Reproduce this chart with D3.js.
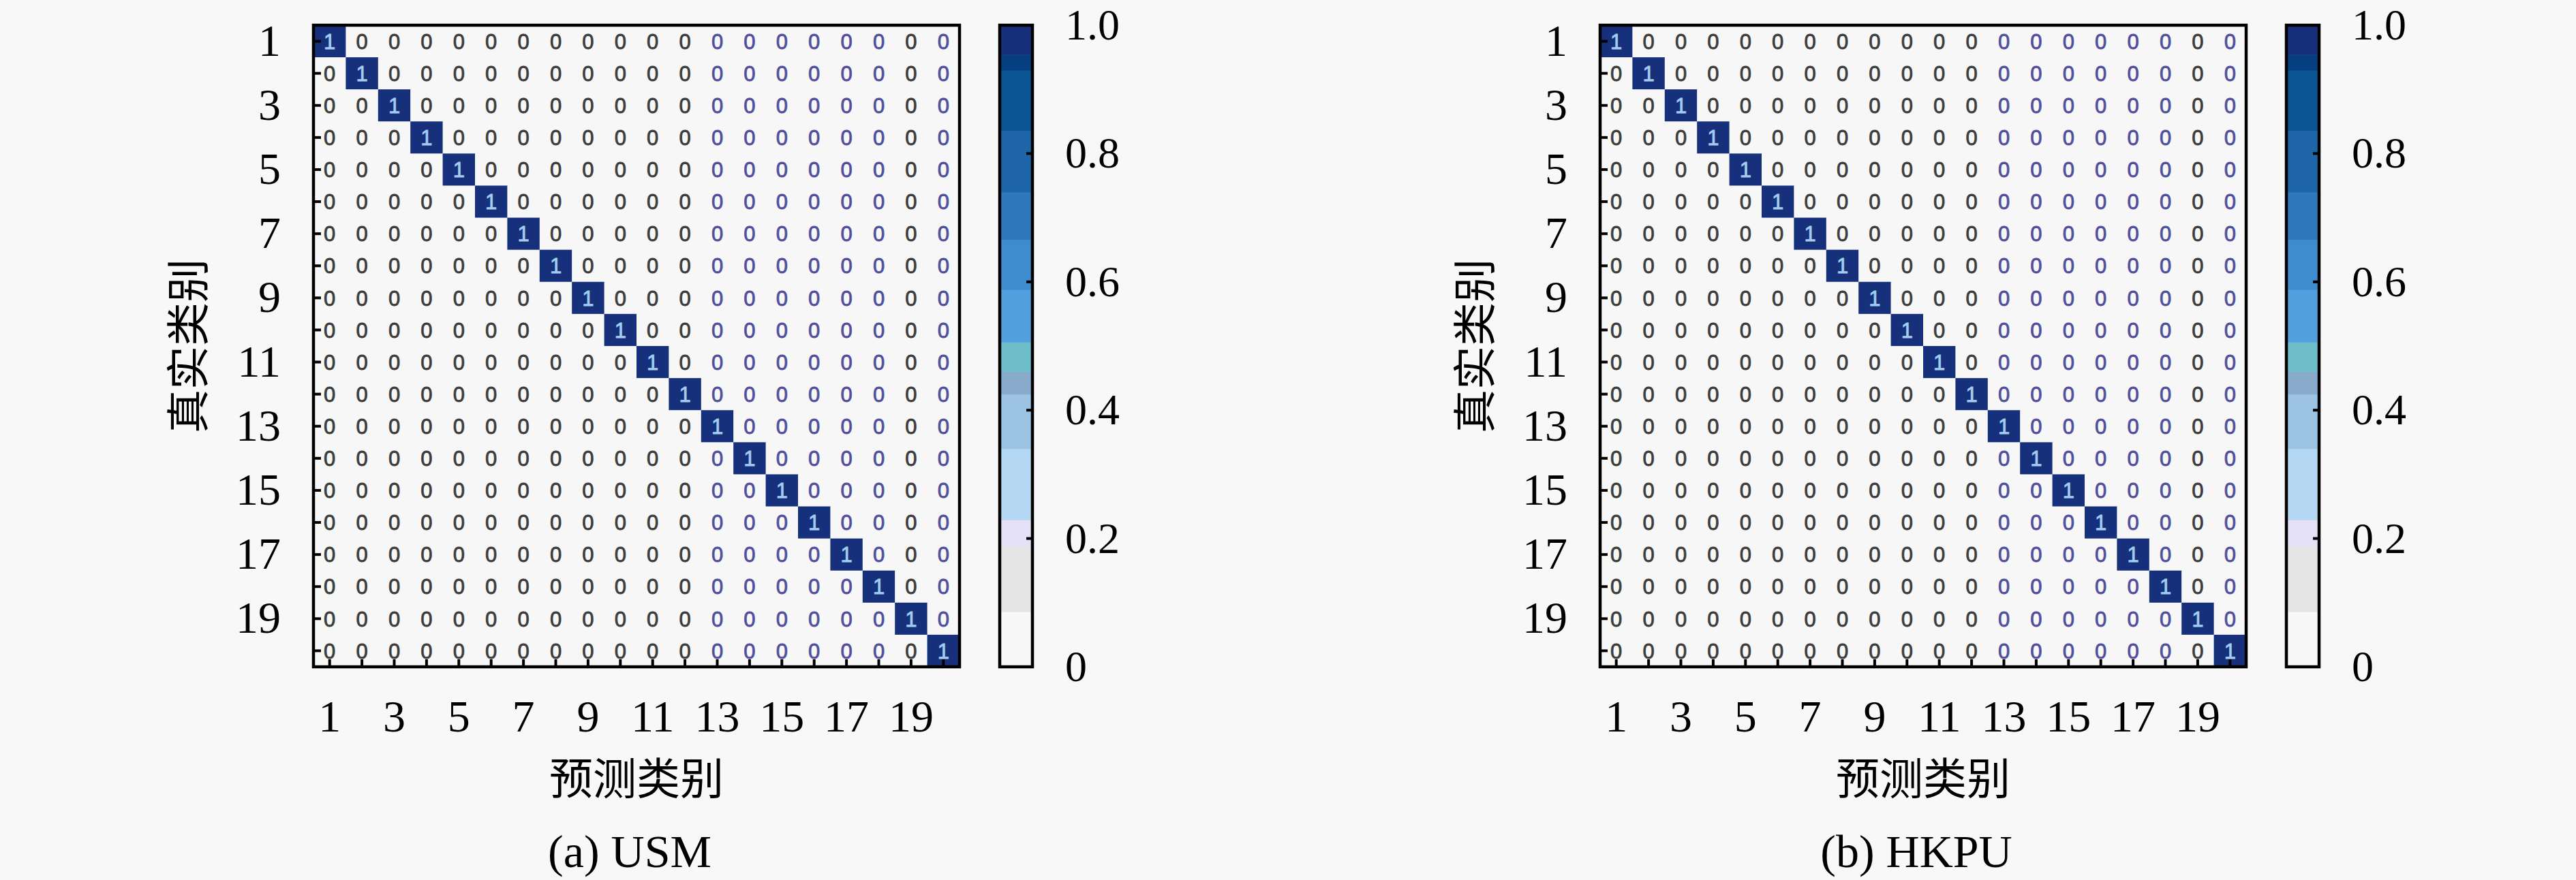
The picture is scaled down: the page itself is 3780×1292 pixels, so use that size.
<!DOCTYPE html>
<html>
<head>
<meta charset="utf-8">
<script src="https://cdn.jsdelivr.net/npm/d3@7"></script>
<style>
  body { margin: 0; background: #f8f8f8; }
  svg { display: block; }
</style>
</head>
<body>
<svg id="chart" width="3780" height="1292"></svg>
<script>
// categories (1..20) and the odd ones that get labels
const classes = [1,2,3,4,5,6,7,8,9,10,11,12,13,14,15,16,17,18,19,20];
const tickLabels = [1,3,5,7,9,11,13,15,17,19];
const cbTicks = [0, 0.2, 0.4, 0.6, 0.8, 1.0];
const titles = ["(a) USM", "(b) HKPU"];

// confusion matrices, rows = true class, cols = predicted class
const usm = [
  [1,0,0,0,0,0,0,0,0,0,0,0,0,0,0,0,0,0,0,0],
  [0,1,0,0,0,0,0,0,0,0,0,0,0,0,0,0,0,0,0,0],
  [0,0,1,0,0,0,0,0,0,0,0,0,0,0,0,0,0,0,0,0],
  [0,0,0,1,0,0,0,0,0,0,0,0,0,0,0,0,0,0,0,0],
  [0,0,0,0,1,0,0,0,0,0,0,0,0,0,0,0,0,0,0,0],
  [0,0,0,0,0,1,0,0,0,0,0,0,0,0,0,0,0,0,0,0],
  [0,0,0,0,0,0,1,0,0,0,0,0,0,0,0,0,0,0,0,0],
  [0,0,0,0,0,0,0,1,0,0,0,0,0,0,0,0,0,0,0,0],
  [0,0,0,0,0,0,0,0,1,0,0,0,0,0,0,0,0,0,0,0],
  [0,0,0,0,0,0,0,0,0,1,0,0,0,0,0,0,0,0,0,0],
  [0,0,0,0,0,0,0,0,0,0,1,0,0,0,0,0,0,0,0,0],
  [0,0,0,0,0,0,0,0,0,0,0,1,0,0,0,0,0,0,0,0],
  [0,0,0,0,0,0,0,0,0,0,0,0,1,0,0,0,0,0,0,0],
  [0,0,0,0,0,0,0,0,0,0,0,0,0,1,0,0,0,0,0,0],
  [0,0,0,0,0,0,0,0,0,0,0,0,0,0,1,0,0,0,0,0],
  [0,0,0,0,0,0,0,0,0,0,0,0,0,0,0,1,0,0,0,0],
  [0,0,0,0,0,0,0,0,0,0,0,0,0,0,0,0,1,0,0,0],
  [0,0,0,0,0,0,0,0,0,0,0,0,0,0,0,0,0,1,0,0],
  [0,0,0,0,0,0,0,0,0,0,0,0,0,0,0,0,0,0,1,0],
  [0,0,0,0,0,0,0,0,0,0,0,0,0,0,0,0,0,0,0,1]
];
const hkpu = [
  [1,0,0,0,0,0,0,0,0,0,0,0,0,0,0,0,0,0,0,0],
  [0,1,0,0,0,0,0,0,0,0,0,0,0,0,0,0,0,0,0,0],
  [0,0,1,0,0,0,0,0,0,0,0,0,0,0,0,0,0,0,0,0],
  [0,0,0,1,0,0,0,0,0,0,0,0,0,0,0,0,0,0,0,0],
  [0,0,0,0,1,0,0,0,0,0,0,0,0,0,0,0,0,0,0,0],
  [0,0,0,0,0,1,0,0,0,0,0,0,0,0,0,0,0,0,0,0],
  [0,0,0,0,0,0,1,0,0,0,0,0,0,0,0,0,0,0,0,0],
  [0,0,0,0,0,0,0,1,0,0,0,0,0,0,0,0,0,0,0,0],
  [0,0,0,0,0,0,0,0,1,0,0,0,0,0,0,0,0,0,0,0],
  [0,0,0,0,0,0,0,0,0,1,0,0,0,0,0,0,0,0,0,0],
  [0,0,0,0,0,0,0,0,0,0,1,0,0,0,0,0,0,0,0,0],
  [0,0,0,0,0,0,0,0,0,0,0,1,0,0,0,0,0,0,0,0],
  [0,0,0,0,0,0,0,0,0,0,0,0,1,0,0,0,0,0,0,0],
  [0,0,0,0,0,0,0,0,0,0,0,0,0,1,0,0,0,0,0,0],
  [0,0,0,0,0,0,0,0,0,0,0,0,0,0,1,0,0,0,0,0],
  [0,0,0,0,0,0,0,0,0,0,0,0,0,0,0,1,0,0,0,0],
  [0,0,0,0,0,0,0,0,0,0,0,0,0,0,0,0,1,0,0,0],
  [0,0,0,0,0,0,0,0,0,0,0,0,0,0,0,0,0,1,0,0],
  [0,0,0,0,0,0,0,0,0,0,0,0,0,0,0,0,0,0,1,0],
  [0,0,0,0,0,0,0,0,0,0,0,0,0,0,0,0,0,0,0,1]
];

// stepped colormap
const color = d3.scaleThreshold()
  .domain([0.086, 0.188, 0.229, 0.34, 0.425, 0.46, 0.506, 0.588, 0.666, 0.74, 0.836, 0.93, 0.954])
  .range(["#f7f7f7","#e4e4e4","#e3e0f8","#b4d8f4","#9dc3e2","#88abcb","#6dbdcb",
          "#529fdd","#3f8bce","#2f78bb","#1f66a8","#0b5595","#063f7f","#16307c"]);

const serif = "'Liberation Serif', 'DejaVu Serif', serif";
const cjk = "'Noto Sans CJK SC', sans-serif";
const sans = "'Liberation Sans', Arial, sans-serif";

const svg = d3.select("#chart");
svg.append("rect").attr("width", 3780).attr("height", 1292).attr("fill", "#f8f8f8");

const W = 948, H = 942, plotTop = 37;

function drawPanel(data, x0, title) {
  const g = svg.append("g").attr("transform", `translate(${x0},${plotTop})`);

  const x = d3.scaleBand().domain(classes).range([0, W]);
  const y = d3.scaleBand().domain(classes).range([0, H]);

  const cells = [];
  data.forEach((row, i) => row.forEach((v, j) => cells.push({r: classes[i], c: classes[j], v: v})));

  g.selectAll("rect.cell")
    .data(cells)
    .join("rect")
      .attr("class", "cell")
      .attr("x", d => x(d.c))
      .attr("y", d => y(d.r))
      .attr("width", x.bandwidth() + 0.5)
      .attr("height", y.bandwidth() + 0.5)
      .attr("fill", d => color(d.v));

  const txtColor = d => d.v > 0.5 ? "#a3cdee" : (d.c >= 13 && d.c != 19 ? "#4f4f9c" : "#3c3c3c");
  g.selectAll("text.val")
    .data(cells)
    .join("text")
      .attr("class", "val")
      .attr("x", d => x(d.c) + x.bandwidth() / 2)
      .attr("y", d => y(d.r) + y.bandwidth() / 2)
      .attr("dy", "0.36em")
      .attr("text-anchor", "middle")
      .style("font-family", sans)
      .style("font-size", "31px")
      .attr("fill", txtColor)
      .attr("stroke", txtColor)
      .attr("stroke-width", 0.8)
      .text(d => d3.format("d")(d.v));

  // inward tick marks on every row / column
  g.append("g")
    .call(d3.axisLeft(y).tickSize(-11).tickFormat(""))
    .call(a => a.select(".domain").remove())
    .selectAll("line").attr("stroke", "#000").attr("stroke-width", 4);
  g.append("g")
    .attr("transform", `translate(0,${H})`)
    .call(d3.axisBottom(x).tickSize(-11).tickFormat(""))
    .call(a => a.select(".domain").remove())
    .selectAll("line").attr("stroke", "#000").attr("stroke-width", 4);

  // odd labels
  const yl = g.append("g")
    .call(d3.axisLeft(y).tickValues(tickLabels).tickSize(0).tickPadding(48));
  yl.select(".domain").remove();
  yl.selectAll("text").style("font-family", serif).style("font-size", "66px").attr("fill", "#000");

  const xl = g.append("g")
    .attr("transform", `translate(0,${H})`)
    .call(d3.axisBottom(x).tickValues(tickLabels).tickSize(0).tickPadding(48));
  xl.select(".domain").remove();
  xl.selectAll("text").style("font-family", serif).style("font-size", "66px").attr("fill", "#000");

  // frame
  g.append("rect").attr("width", W).attr("height", H)
    .attr("fill", "none").attr("stroke", "#000").attr("stroke-width", 4.5);

  // axis titles
  g.append("text")
    .attr("x", W / 2).attr("y", 1107)
    .attr("dy", "0.35em")
    .attr("text-anchor", "middle")
    .style("font-family", cjk).style("font-size", "64px")
    .text("预测类别");
  g.append("text")
    .attr("transform", `translate(-183,${H / 2}) rotate(-90)`)
    .attr("dy", "0.35em")
    .attr("text-anchor", "middle")
    .style("font-family", cjk).style("font-size", "64px")
    .text("真实类别");
  g.append("text")
    .attr("x", W / 2 - 10).attr("y", 1212)
    .attr("dy", "0.35em")
    .attr("text-anchor", "middle")
    .style("font-family", serif).style("font-size", "68px")
    .text(title);

  // colorbar
  const cbx = 1007, cbw = 48;
  const cy = d3.scaleLinear().domain([0, 1]).range([H, 0]);
  const edges = [0].concat(color.domain(), [1]);
  const bands = d3.pairs(edges);
  const cb = g.append("g").attr("transform", `translate(${cbx},0)`);
  cb.selectAll("rect")
    .data(bands)
    .join("rect")
      .attr("x", 0)
      .attr("y", d => cy(d[1]))
      .attr("width", cbw)
      .attr("height", d => cy(d[0]) - cy(d[1]) + 0.5)
      .attr("fill", d => color((d[0] + d[1]) / 2));
  cb.append("rect").attr("width", cbw).attr("height", H)
    .attr("fill", "none").attr("stroke", "#000").attr("stroke-width", 4.5);
  const cba = cb.append("g").attr("transform", `translate(${cbw},0)`)
    .call(d3.axisRight(cy).tickValues(cbTicks).tickSize(0).tickPadding(48)
      .tickFormat(d => d === 0 ? "0" : d3.format(".1f")(d)));
  cba.select(".domain").remove();
  cba.selectAll("text").style("font-family", serif).style("font-size", "64px").attr("fill", "#000");
  cb.selectAll("line.cbt")
    .data(cbTicks.slice(1, -1))
    .join("line")
      .attr("class", "cbt")
      .attr("x1", cbw - 9).attr("x2", cbw)
      .attr("y1", d => cy(d)).attr("y2", d => cy(d))
      .attr("stroke", "#000").attr("stroke-width", 4);
}

drawPanel(usm, 460, titles[0]);
drawPanel(hkpu, 2348, titles[1]);
</script>
</body>
</html>
